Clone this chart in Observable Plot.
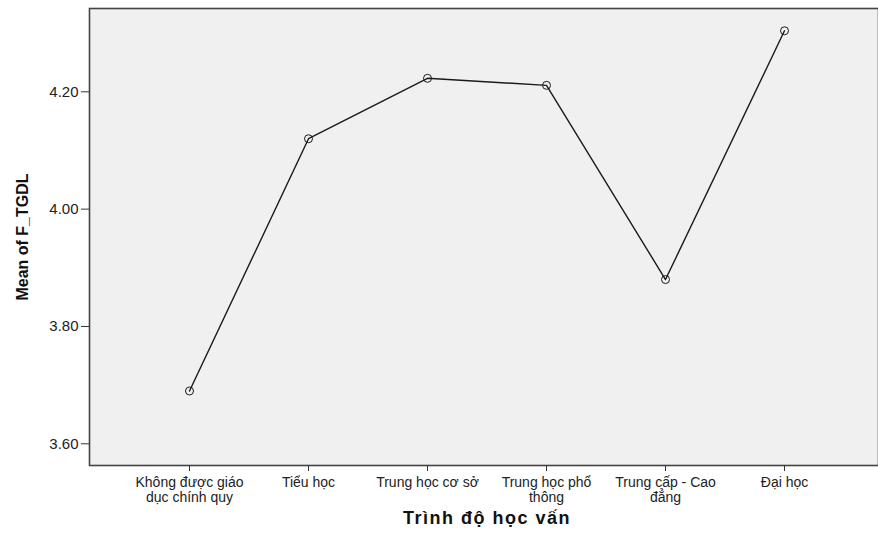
<!DOCTYPE html>
<html>
<head>
<meta charset="utf-8">
<script src="https://cdn.jsdelivr.net/npm/d3@7"></script>
<script src="https://cdn.jsdelivr.net/npm/@observablehq/plot@0.6"></script>
<style>
  html, body { margin: 0; padding: 0; background: #ffffff; }
  #chart svg { display: block; }
</style>
</head>
<body>
<div id="chart"></div>
<script>
// Categories (x axis) — "\n" marks the wrapped line break
const categories = [
  "Không được giáo\ndục chính quy",
  "Tiểu học",
  "Trung học cơ sở",
  "Trung học phổ\nthông",
  "Trung cấp - Cao\nđẳng",
  "Đại học"
];
// Mean of F_TGDL per category
const meanValues = [3.690, 4.120, 4.223, 4.211, 3.880, 4.304];
// Y tick values
const yTicks = [3.60, 3.80, 4.00, 4.20];
const xTitle = "Trình độ học vấn";
const yTitle = "Mean of F_TGDL";

const data = categories.map((c, i) => ({ cat: c, value: meanValues[i] }));

const chart = Plot.plot({
  width: 878,
  height: 533,
  marginLeft: 89,
  marginRight: 0,
  marginTop: 8,
  marginBottom: 68,
  style: { fontFamily: "'Liberation Sans', Arial, sans-serif", fontSize: "15px", background: "#ffffff", color: "#222" },
  x: { type: "point", domain: categories, range: [188, 784], padding: 0 },
  y: { domain: [3.563, 4.342] },
  marks: [
    Plot.frame({ fill: "#f0f0f0", stroke: "#444", strokeWidth: 1.6 }),
    Plot.axisY({
      ticks: yTicks,
      tickFormat: d => d.toFixed(2),
      tickSize: 8,
      tickPadding: 3,
      fontSize: 15,
      stroke: "#333",
      label: null
    }),
    Plot.axisX({
      tickSize: 6,
      tickPadding: 5,
      fontSize: 14,
      lineHeight: 1.08,
      stroke: "#333",
      label: null
    }),
    Plot.line(data, { x: "cat", y: "value", stroke: "#1a1a1a", strokeWidth: 1.4 }),
    Plot.dot(data, { x: "cat", y: "value", r: 4, stroke: "#1a1a1a", fill: "none", strokeWidth: 1 }),
    Plot.text([yTitle], {
      frameAnchor: "left", dx: -67, rotate: -90, text: d => d, textAnchor: "middle",
      fontWeight: "bold", fontSize: 16, fill: "#111",
      fontFamily: "'Liberation Sans Narrow', 'Liberation Sans', Arial, sans-serif"
    }),
    Plot.text([xTitle], {
      frameAnchor: "bottom", dy: 58, dx: 3, text: d => d, textAnchor: "middle",
      fontWeight: "bold", fontSize: 18, fill: "#111",
      fontFamily: "'Liberation Sans', Arial, sans-serif"
    })
  ]
});

d3.select(chart).selectAll("text")
  .filter(function () { return this.textContent === xTitle; })
  .attr("letter-spacing", "1.5px");

document.getElementById("chart").appendChild(chart);
</script>
</body>
</html>
